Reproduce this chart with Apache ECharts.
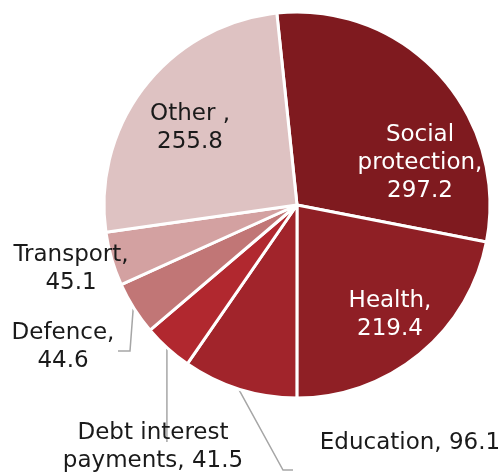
<!DOCTYPE html>
<html>
<head>
<meta charset="utf-8">
<style>
  html, body { margin: 0; padding: 0; background: #ffffff; }
  #chart { width: 502px; height: 473px; }
</style>
<script src="https://cdn.jsdelivr.net/npm/echarts@6/dist/echarts.min.js"></script>
</head>
<body>
<div id="chart"></div>
<script>
// Spending by function (£bn)
const categories = ['Social\nprotection', 'Health', 'Education', 'Debt interest\npayments', 'Defence', 'Transport', 'Other '];
const values = [297.2, 219.4, 96.1, 41.5, 44.6, 45.1, 255.8];
// text between the name and the value in each label
const separators = [',\n', ',\n', ', ', ', ', ',\n', ',\n', ',\n'];
const colors = ['#7f1a1f', '#8f1f25', '#a1242b', '#b1282f', '#c17676', '#d3a1a1', '#dec2c2'];

// pie geometry and label placement
const CX = 297, CY = 205, R = 193, START = 96;
const inside = [true, true, false, false, false, false, true];
const labelColor = ['#ffffff', '#ffffff', '#1a1a1a', '#1a1a1a', '#1a1a1a', '#1a1a1a', '#1a1a1a'];
const labelPos = [[420, 163], [390, 315], [410, 443], [153, 447], [63, 347], [71, 269], [190, 128]];
// leader line: points after the slice anchor, or straight down to a given y
const leaders = [null, null, { pts: [[283, 470], [293, 470]] }, { down: 442 }, { pts: [[130, 351], [118, 351]] }, null, null];

const total = values.reduce((a, b) => a + b, 0);
function midAnchor(i) {
  let acc = 0;
  for (let k = 0; k < i; k++) acc += values[k];
  const a = -START * Math.PI / 180 + (acc + values[i] / 2) / total * Math.PI * 2;
  return [CX + (R + 1) * Math.cos(a), CY + (R + 1) * Math.sin(a)];
}

const data = categories.map((name, i) => ({
  name: name,
  value: values[i],
  itemStyle: { color: colors[i] },
  label: { position: inside[i] ? 'inside' : 'outside', color: labelColor[i] },
  labelLine: { show: !!leaders[i] }
}));

const chart = echarts.init(document.getElementById('chart'), null, { renderer: 'canvas' });
chart.setOption({
  animation: false,
  series: [{
    type: 'pie',
    center: [CX, CY],
    radius: R,
    startAngle: START,
    clockwise: true,
    avoidLabelOverlap: false,
    data: data,
    itemStyle: { borderColor: '#ffffff', borderWidth: 3 },
    label: {
      fontFamily: 'DejaVu Sans',
      fontSize: 23,
      lineHeight: 28,
      overflow: 'none',
      align: 'center',
      formatter: p => p.name + separators[p.dataIndex] + p.value
    },
    labelLine: {
      lineStyle: { color: '#a6a6a6', width: 1.5 }
    },
    labelLayout: function (p) {
      const i = p.dataIndex;
      const out = {
        x: labelPos[i][0],
        y: labelPos[i][1],
        align: 'center',
        verticalAlign: 'middle'
      };
      const ld = leaders[i];
      if (ld) {
        const a = midAnchor(i);
        out.labelLinePoints = ld.pts ? [a].concat(ld.pts) : [a, [a[0], ld.down]];
      }
      return out;
    },
    emphasis: { disabled: true }
  }]
});
</script>
</body>
</html>
